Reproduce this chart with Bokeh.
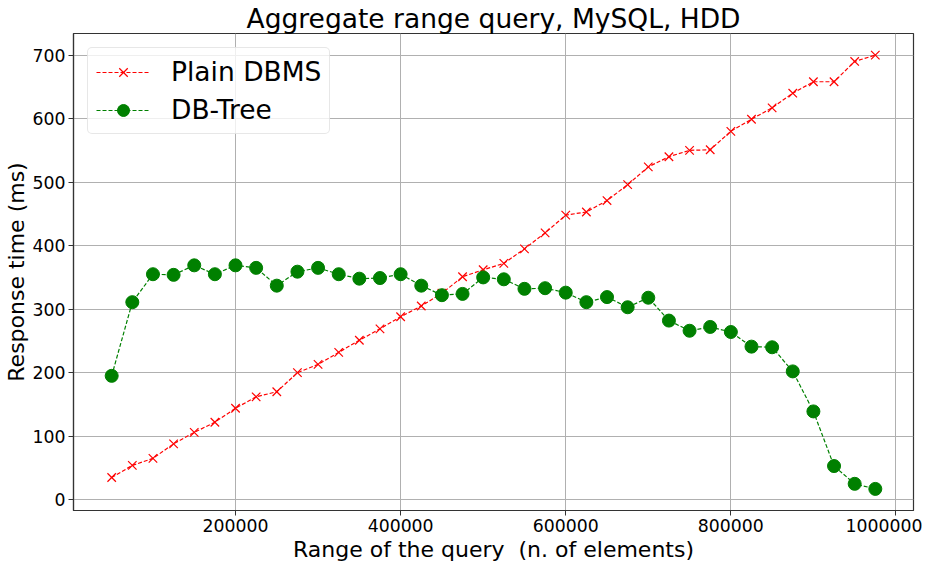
from bokeh.plotting import figure
from bokeh.models import FixedTicker, BasicTickFormatter, Legend, LegendItem, Range1d, Title
from bokeh.embed import file_html
from bokeh.resources import INLINE

x_range_vals = list(range(50000, 1000000, 25000))
plain_dbms = [35, 54, 65, 88, 106, 122, 144, 162, 170, 200, 213, 232, 251, 269, 288, 305,
              325, 351, 362, 372, 395, 420, 448, 453, 471, 496, 524, 540, 550, 551, 580, 599,
              617, 640, 658, 658, 690, 700]
db_tree = [195, 311, 355, 354, 369, 355, 369, 365, 337, 359, 365, 355, 348, 349, 355, 337,
           322, 324, 350, 347, 332, 333, 326, 311, 319, 303, 318, 282, 266, 272, 264, 241,
           240, 202, 139, 53, 25, 17]
x_ticks = [200000, 400000, 600000, 800000, 1000000]
y_ticks = [0, 100, 200, 300, 400, 500, 600, 700]

FONT = "DejaVu Sans"

p = figure(width=922, height=561, output_backend="svg", toolbar_location=None,
           x_range=Range1d(3750, 1021250), y_range=Range1d(-17, 734),
           title="Aggregate range query, MySQL, HDD")
p.min_border_left = 65
p.min_border_right = 9
p.min_border_top = 26
p.min_border_bottom = 20

p.title.text_font = FONT
p.title.text_font_size = "26.5px"
p.title.text_font_style = "normal"
p.title.text_color = "black"
p.title.align = "center"
p.title.standoff = 0

for ax in (p.xaxis[0], p.yaxis[0]):
    ax.axis_label_text_font = FONT
    ax.axis_label_text_font_style = "normal"
    ax.axis_label_text_font_size = "22px"
    ax.axis_label_text_color = "black"
    ax.major_label_text_font = FONT
    ax.major_label_text_font_size = "17.3px"
    ax.major_label_text_color = "black"
    ax.minor_tick_line_color = None
    ax.major_tick_out = 5
    ax.major_tick_in = 0
    ax.axis_line_color = "#333333"
    ax.axis_line_width = 1.2
    ax.major_tick_line_color = "#333333"
    ax.major_label_standoff = 3
    ax.axis_label_standoff = 1

p.xaxis[0].major_label_standoff = 3
p.xaxis[0].ticker = FixedTicker(ticks=x_ticks)
p.yaxis[0].ticker = FixedTicker(ticks=y_ticks)
p.xaxis[0].formatter = BasicTickFormatter(use_scientific=False)
p.yaxis[0].axis_label = "Response time (ms)"

xtitle = Title(text="Range of the query \u00a0(n. of elements)", align="center",
               text_font=FONT, text_font_size="22px", text_font_style="normal",
               text_color="black", standoff=0, offset=0)
p.add_layout(xtitle, "below")

p.outline_line_color = "#333333"
p.outline_line_width = 1.2
p.grid.grid_line_color = "#b0b0b0"
p.grid.grid_line_width = 1

l1 = p.line(x_range_vals, plain_dbms, line_color="red", line_dash="4 2", line_width=1.2)
s1 = p.scatter(x_range_vals, plain_dbms, marker="x", size=12, line_color="red", line_width=1.2)
l2 = p.line(x_range_vals, db_tree, line_color="green", line_dash="4 2", line_width=1.2)
s2 = p.scatter(x_range_vals, db_tree, marker="circle", size=13, fill_color="green",
               line_color="green")

legend = Legend(items=[LegendItem(label="Plain DBMS", renderers=[l1, s1]),
                       LegendItem(label="DB-Tree", renderers=[l2, s2])],
                location="top_left")
legend.label_text_font = FONT
legend.label_text_font_size = "26.5px"
legend.label_text_color = "black"
legend.glyph_width = 54
legend.glyph_height = 30
legend.label_standoff = 21
legend.spacing = 7
legend.padding = 8
legend.margin = 14
legend.border_line_color = "#d0d0d0"
legend.border_line_width = 1
legend.background_fill_alpha = 0.8
legend.border_radius = 5
p.add_layout(legend)

open("out.html", "w").write(file_html(p, INLINE))
